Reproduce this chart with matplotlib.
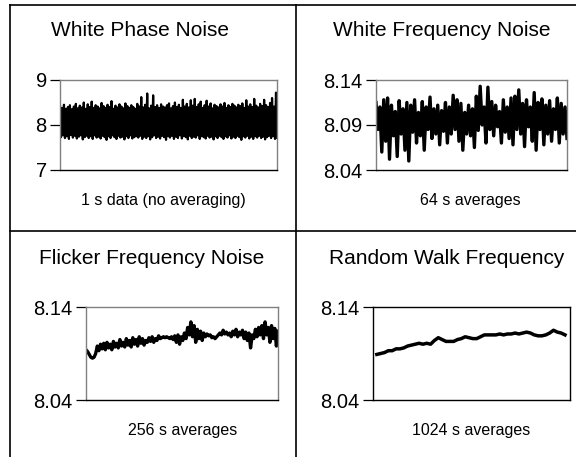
import numpy as np
import matplotlib
matplotlib.use("Agg")
import matplotlib.pyplot as plt
from matplotlib.lines import Line2D

plt.rcParams['font.family'] = ['Liberation Sans', 'DejaVu Sans']

# panel texts
titles = ["White Phase Noise", "White Frequency Noise",
          "Flicker Frequency Noise", "Random Walk Frequency"]
captions = ["1 s data (no averaging)", "64 s averages",
            "256 s averages", "1024 s averages"]

# y ticks per panel
ticks_1 = [7, 8, 9]
tick_labels_1 = ["7", "8", "9"]
ticks_2 = [8.04, 8.09, 8.14]
tick_labels_2 = ["8.04", "8.09", "8.14"]
ticks_34 = [8.04, 8.14]
tick_labels_34 = ["8.04", "8.14"]

# 1 s data, white phase noise
white_phase = [
    8.42, 7.73, 8.38, 7.77, 8.45, 7.71, 8.36, 7.75, 8.40, 7.69, 8.44, 7.78, 8.35, 7.72, 8.41, 7.76, 8.47, 7.70, 8.37, 7.74,
    8.43, 7.77, 8.39, 7.68, 8.50, 7.73, 8.36, 7.76, 8.46, 7.71, 8.40, 7.75, 8.52, 7.69, 8.38, 7.77, 8.44, 7.72, 8.41, 7.74,
    8.37, 7.70, 8.49, 7.76, 8.42, 7.73, 8.38, 7.67, 8.45, 7.75, 8.40, 7.71, 8.53, 7.77, 8.36, 7.73, 8.43, 7.69, 8.39, 7.76,
    8.46, 7.72, 8.41, 7.74, 8.37, 7.68, 8.48, 7.75, 8.42, 7.71, 8.38, 7.77, 8.44, 7.70, 8.40, 7.73, 8.36, 7.75, 8.47, 7.72,
    8.41, 7.76, 8.62, 7.69, 8.39, 7.74, 8.45, 7.71, 8.70, 7.75, 8.37, 7.68, 8.43, 7.73, 8.66, 7.77, 8.40, 7.71, 8.44, 7.74,
    8.38, 7.70, 8.46, 7.76, 8.41, 7.73, 8.39, 7.67, 8.44, 7.75, 8.48, 7.72, 8.37, 7.76, 8.42, 7.69, 8.50, 7.74, 8.40, 7.71,
    8.45, 7.77, 8.38, 7.70, 8.56, 7.75, 8.41, 7.73, 8.47, 7.68, 8.39, 7.76, 8.55, 7.71, 8.43, 7.74, 8.58, 7.72, 8.40, 7.77,
    8.46, 7.69, 8.52, 7.75, 8.38, 7.73, 8.44, 7.70, 8.54, 7.76, 8.41, 7.72, 8.48, 7.74, 8.37, 7.68, 8.45, 7.75, 8.42, 7.71,
    8.39, 7.76, 8.46, 7.73, 8.41, 7.69, 8.49, 7.75, 8.38, 7.72, 8.44, 7.77, 8.40, 7.70, 8.47, 7.74, 8.43, 7.71, 8.39, 7.76,
    8.45, 7.73, 8.42, 7.67, 8.48, 7.75, 8.38, 7.72, 8.55, 7.76, 8.41, 7.70, 8.46, 7.74, 8.40, 7.69, 8.58, 7.75, 8.43, 7.72,
    8.39, 7.76, 8.47, 7.71, 8.42, 7.74, 8.56, 7.68, 8.44, 7.73, 8.40, 7.76, 8.49, 7.71, 8.60, 7.75, 8.41, 7.69, 8.72, 7.72,
]

# 64 s averages, white frequency noise
white_freq = [
    8.115, 8.085, 8.110, 8.060, 8.118, 8.072, 8.120, 8.052, 8.112, 8.078,
    8.105, 8.055, 8.117, 8.080, 8.108, 8.062, 8.115, 8.050, 8.112, 8.082,
    8.118, 8.070, 8.104, 8.078, 8.116, 8.062, 8.110, 8.085, 8.121, 8.075,
    8.108, 8.080, 8.112, 8.068, 8.106, 8.083, 8.115, 8.070, 8.110, 8.080,
    8.123, 8.085, 8.118, 8.072, 8.114, 8.062, 8.104, 8.080, 8.112, 8.078,
    8.108, 8.065, 8.122, 8.084, 8.133, 8.090, 8.110, 8.070, 8.132, 8.085,
    8.116, 8.078, 8.112, 8.088, 8.105, 8.070, 8.118, 8.082, 8.110, 8.075,
    8.120, 8.068, 8.122, 8.085, 8.129, 8.080, 8.114, 8.066, 8.118, 8.088,
    8.110, 8.072, 8.126, 8.062, 8.115, 8.085, 8.119, 8.068, 8.112, 8.080,
    8.117, 8.072, 8.108, 8.085, 8.120, 8.070, 8.114, 8.080, 8.110, 8.075,
]

# 256 s averages, flicker frequency noise
flicker_freq = [
    8.094, 8.092, 8.089, 8.086, 8.085, 8.086, 8.090, 8.098, 8.093, 8.100,
    8.095, 8.101, 8.094, 8.102, 8.096, 8.100, 8.094, 8.103, 8.097, 8.101,
    8.096, 8.105, 8.098, 8.102, 8.097, 8.106, 8.099, 8.104, 8.097, 8.107,
    8.100, 8.105, 8.098, 8.108, 8.101, 8.106, 8.099, 8.104, 8.102, 8.107,
    8.103, 8.108, 8.102, 8.106, 8.104, 8.109, 8.106, 8.107, 8.108, 8.107,
    8.108, 8.107, 8.106, 8.108, 8.105, 8.109, 8.102, 8.110, 8.100, 8.108,
    8.104, 8.112, 8.106, 8.118, 8.110, 8.124, 8.108, 8.120, 8.102, 8.116,
    8.106, 8.114, 8.104, 8.112, 8.108, 8.111, 8.109, 8.110, 8.107, 8.108,
    8.106, 8.108, 8.110, 8.112, 8.110, 8.115, 8.111, 8.113, 8.110, 8.112,
    8.108, 8.114, 8.110, 8.116, 8.108, 8.113, 8.110, 8.115, 8.106, 8.113,
    8.104, 8.112, 8.096, 8.110, 8.106, 8.116, 8.108, 8.118, 8.110, 8.120,
    8.106, 8.124, 8.110, 8.118, 8.102, 8.120, 8.106, 8.117, 8.098, 8.114,
]

# 1024 s averages, random walk frequency
random_walk = [
    8.089, 8.090, 8.091, 8.093, 8.093, 8.095, 8.095, 8.096, 8.098, 8.099,
    8.100, 8.101, 8.100, 8.101, 8.100, 8.104, 8.107, 8.105, 8.103, 8.103,
    8.103, 8.105, 8.106, 8.108, 8.107, 8.106, 8.106, 8.108, 8.110, 8.110,
    8.110, 8.110, 8.111, 8.110, 8.111, 8.111, 8.112, 8.111, 8.112, 8.113,
    8.112, 8.110, 8.109, 8.109, 8.110, 8.112, 8.115, 8.113, 8.112, 8.110,
]

fig = plt.figure(figsize=(5.76, 4.57), dpi=100)
W, H = 576.0, 457.0


def px_axes(x0, y0, x1, y1):
    return fig.add_axes([x0 / W, 1 - y1 / H, (x1 - x0) / W, (y1 - y0) / H])


def style(ax, ticks, labels, ylim, gray=True):
    ax.set_ylim(*ylim)
    ax.set_yticks(ticks)
    ax.set_yticklabels(labels, fontsize=14.5)
    ax.set_xticks([])
    ax.tick_params(axis='y', direction='out', length=7.5, width=0.9, pad=2, color='black')
    for side in ['top', 'left', 'right']:
        ax.spines[side].set_color('#808080' if gray else 'black')
        ax.spines[side].set_linewidth(1.0)
    ax.spines['bottom'].set_color('black')
    ax.spines['bottom'].set_linewidth(1.0)


ax1 = px_axes(60, 80, 277, 170)
ax1.plot(range(len(white_phase)), white_phase, color='black', lw=1.6)
ax1.set_xlim(0, len(white_phase) - 1)
style(ax1, ticks_1, tick_labels_1, (7, 9))

ax2 = px_axes(376, 80, 567, 170)
ax2.plot(range(len(white_freq)), white_freq, color='black', lw=2.4)
ax2.set_xlim(0, len(white_freq) - 1)
style(ax2, ticks_2, tick_labels_2, (8.04, 8.14))

ax3 = px_axes(86, 307, 278, 400)
ax3.plot(range(len(flicker_freq)), flicker_freq, color='black', lw=2.4)
ax3.set_xlim(0, len(flicker_freq) - 1)
style(ax3, ticks_34, tick_labels_34, (8.04, 8.14))

ax4 = px_axes(373, 307, 570, 400)
ax4.plot(range(len(random_walk)), random_walk, color='black', lw=2.5)
ax4.set_xlim(-1.0, len(random_walk) + 0.3)
style(ax4, ticks_34, tick_labels_34, (8.04, 8.14), gray=False)

# titles and captions
title_pos = [(140, 31), (442, 31), (152, 259), (447, 259)]
caption_pos = [(163, 201), (470, 201), (183, 430), (471, 430)]
for t, (x, y) in zip(titles, title_pos):
    fig.text(x / W, 1 - y / H, t, ha='center', va='center', fontsize=15)
for c, (x, y) in zip(captions, caption_pos):
    fig.text(x / W, 1 - y / H, c, ha='center', va='center', fontsize=11.5)

# panel frame lines
frame = [((10, 576), (4.5, 4.5)), ((10, 10), (4.5, 457)),
         ((295.5, 295.5), (4.5, 457)), ((10, 576), (230.7, 230.7))]
for xs, ys in frame:
    fig.add_artist(Line2D([x / W for x in xs], [1 - y / H for y in ys],
                          color='black', lw=1.2, transform=fig.transFigure))

fig.savefig("out.png", dpi=100)
